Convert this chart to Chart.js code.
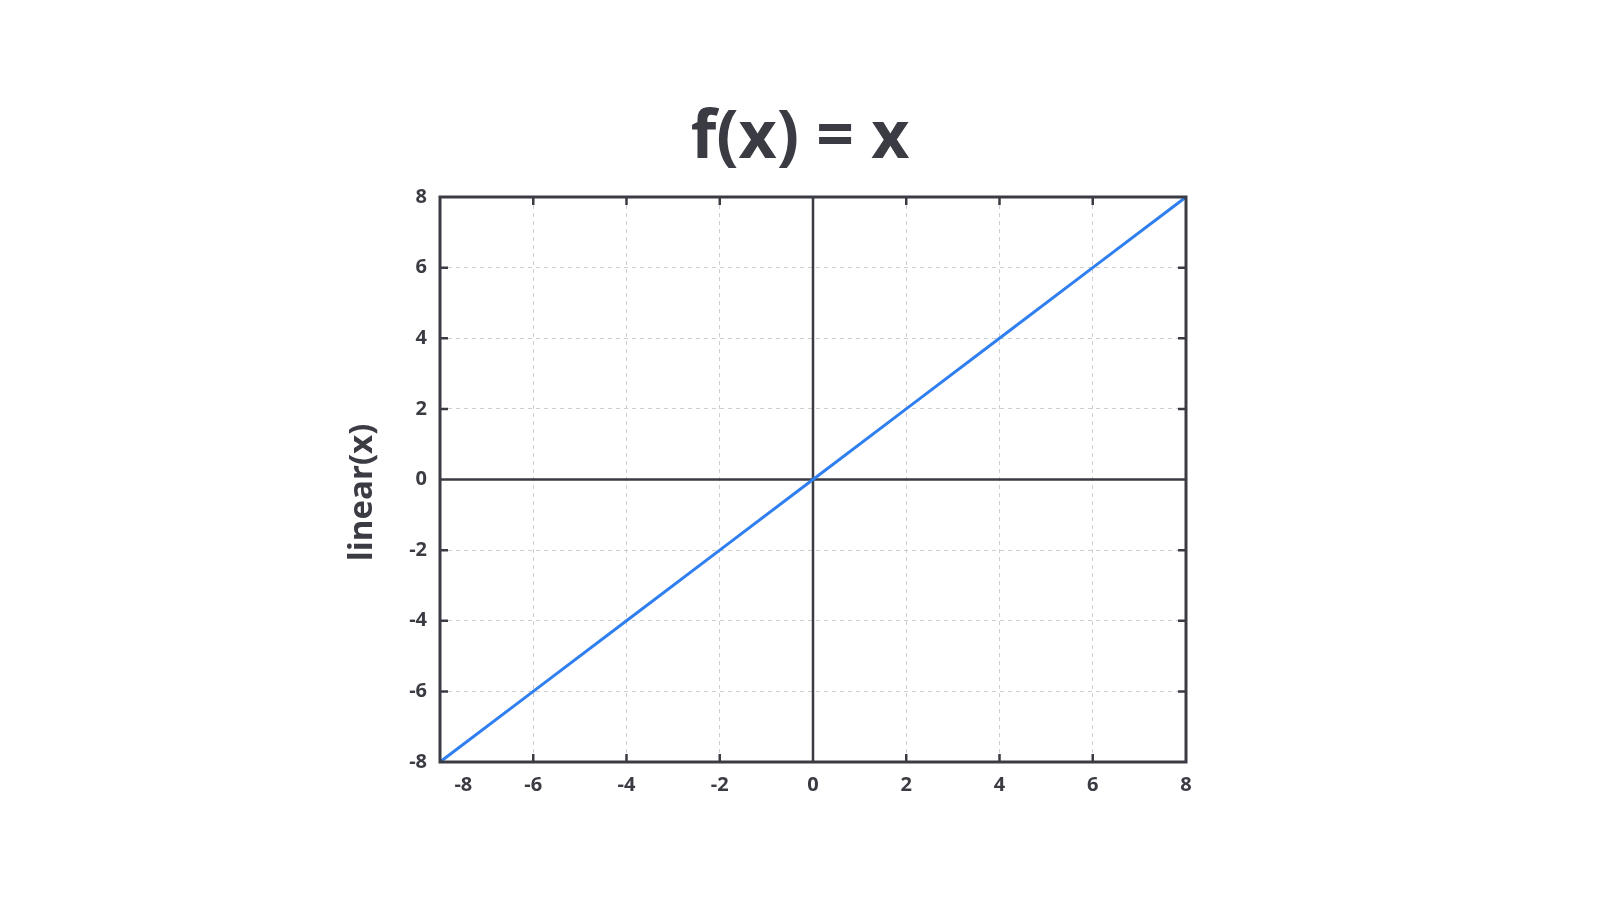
<!DOCTYPE html>
<html>
<head>
<meta charset="utf-8">
<script src="https://cdn.jsdelivr.net/npm/chart.js@4.4.1/dist/chart.umd.min.js"></script>
<style>
  html, body { margin: 0; padding: 0; background: #ffffff; }
  canvas { display: block; }
</style>
</head>
<body>
<canvas id="c" width="1600" height="901"></canvas>
<script>
// ---- data ----
const chartTitle = 'f(x) = x';
const yAxisTitle = 'linear(x)';
const xValues = [-8, -6, -4, -2, 0, 2, 4, 6, 8];
const yValues = [-8, -6, -4, -2, 0, 2, 4, 6, 8];
const xTickValues = [-7.5, -6, -4, -2, 0, 2, 4, 6, 8];
const xTickLabels = ['-8', '-6', '-4', '-2', '0', '2', '4', '6', '8'];
const yTickValues = [-8, -6, -4, -2, 0, 2, 4, 6, 8];
const yTickLabels = ['-8', '-6', '-4', '-2', '0', '2', '4', '6', '8'];

const DARK = '#3b3c43';
const GRID = '#cfcfcf';
const LINE = '#2f7ff0';
const FONT = '"Open Sans", "Noto Sans", sans-serif';

const frame = {
  id: 'frame',
  beforeDatasetsDraw(chart) {
    const {ctx, chartArea: a, scales: {x, y}} = chart;
    ctx.save();
    ctx.strokeStyle = DARK;
    ctx.lineWidth = 2.5;
    const x0 = x.getPixelForValue(0), y0 = y.getPixelForValue(0);
    ctx.beginPath();
    ctx.moveTo(x0, a.top); ctx.lineTo(x0, a.bottom);
    ctx.moveTo(a.left, y0); ctx.lineTo(a.right, y0);
    ctx.stroke();
    ctx.restore();
  },
  afterDatasetsDraw(chart) {
    const {ctx, chartArea: a, scales: {x, y}} = chart;
    ctx.save();
    ctx.strokeStyle = DARK;
    ctx.lineWidth = 2.5;
    const t = 8;
    ctx.beginPath();
    x.ticks.forEach((tk, i) => {
      if (i === 0 || tk.value === x.min || tk.value === x.max || tk.value === 0) return;
      const px = x.getPixelForValue(tk.value);
      ctx.moveTo(px, a.bottom); ctx.lineTo(px, a.bottom - t);
      ctx.moveTo(px, a.top); ctx.lineTo(px, a.top + t);
    });
    y.ticks.forEach(tk => {
      if (tk.value === y.min || tk.value === y.max || tk.value === 0) return;
      const py = y.getPixelForValue(tk.value);
      ctx.moveTo(a.left, py); ctx.lineTo(a.left + t, py);
      ctx.moveTo(a.right, py); ctx.lineTo(a.right - t, py);
    });
    ctx.stroke();
    ctx.lineWidth = 3;
    ctx.strokeRect(a.left, a.top, a.right - a.left, a.bottom - a.top);
    ctx.restore();
  },
  afterDraw(chart) {
    // y-axis title, placed beside the y scale
    const {ctx, chartArea: a} = chart;
    ctx.save();
    ctx.fillStyle = DARK;
    ctx.font = 'bold 33px ' + FONT;
    ctx.textAlign = 'center';
    ctx.textBaseline = 'middle';
    ctx.translate(a.left - 77, (a.top + a.bottom) / 2 + 13);
    ctx.rotate(-Math.PI / 2);
    ctx.fillText(yAxisTitle, 0, 0);
    ctx.restore();
  }
};

new Chart(document.getElementById('c'), {
  type: 'line',
  data: {
    datasets: [{
      data: xValues.map((v, i) => ({x: v, y: yValues[i]})),
      borderColor: LINE,
      borderWidth: 3,
      pointRadius: 0,
      fill: false,
      tension: 0
    }]
  },
  options: {
    responsive: false,
    animation: false,
    devicePixelRatio: 1,
    layout: { padding: { left: 0, right: 0, top: 100, bottom: 99 } },
    plugins: {
      legend: { display: false },
      tooltip: { enabled: false },
      title: {
        display: true,
        text: chartTitle,
        color: DARK,
        font: { family: FONT, size: 66, weight: 'bold' },
        padding: { top: 0, bottom: 17.8 }
      }
    },
    scales: {
      x: {
        type: 'linear',
        min: -8, max: 8,
        afterFit(s) { s.height = 40; },
        afterBuildTicks(s) { s.ticks = xTickValues.map(v => ({value: v})); },
        ticks: {
          color: DARK,
          font: { family: FONT, size: 20, weight: 'bold' },
          padding: 11,
          maxRotation: 0,
          autoSkip: false,
          callback: (v, i) => xTickLabels[i]
        },
        grid: {
          drawTicks: false,
          color: c => (c.tick && (c.tick.value === 0 || c.index === 0 || c.tick.value === 8)) ? 'rgba(0,0,0,0)' : GRID,
          lineWidth: 1
        },
        border: { display: false, dash: [4, 4] }
      },
      y: {
        type: 'linear',
        position: 'left',
        min: -8, max: 8,
        afterFit(s) { s.width = 440; },
        afterBuildTicks(s) { s.ticks = yTickValues.map(v => ({value: v})); },
        ticks: {
          color: DARK,
          font: { family: FONT, size: 20, weight: 'bold' },
          padding: 13,
          autoSkip: false,
          callback: (v, i) => yTickLabels[i]
        },
        grid: {
          drawTicks: false,
          color: c => (c.tick && (c.tick.value === 0 || c.tick.value === -8 || c.tick.value === 8)) ? 'rgba(0,0,0,0)' : GRID,
          lineWidth: 1
        },
        border: { display: false, dash: [4, 4] }
      },
      yRight: {
        type: 'linear',
        position: 'right',
        min: -8, max: 8,
        afterFit(s) { s.width = 414; },
        ticks: { display: false },
        grid: { display: false, drawTicks: false },
        border: { display: false }
      }
    }
  },
  plugins: [frame]
});
</script>
</body>
</html>
